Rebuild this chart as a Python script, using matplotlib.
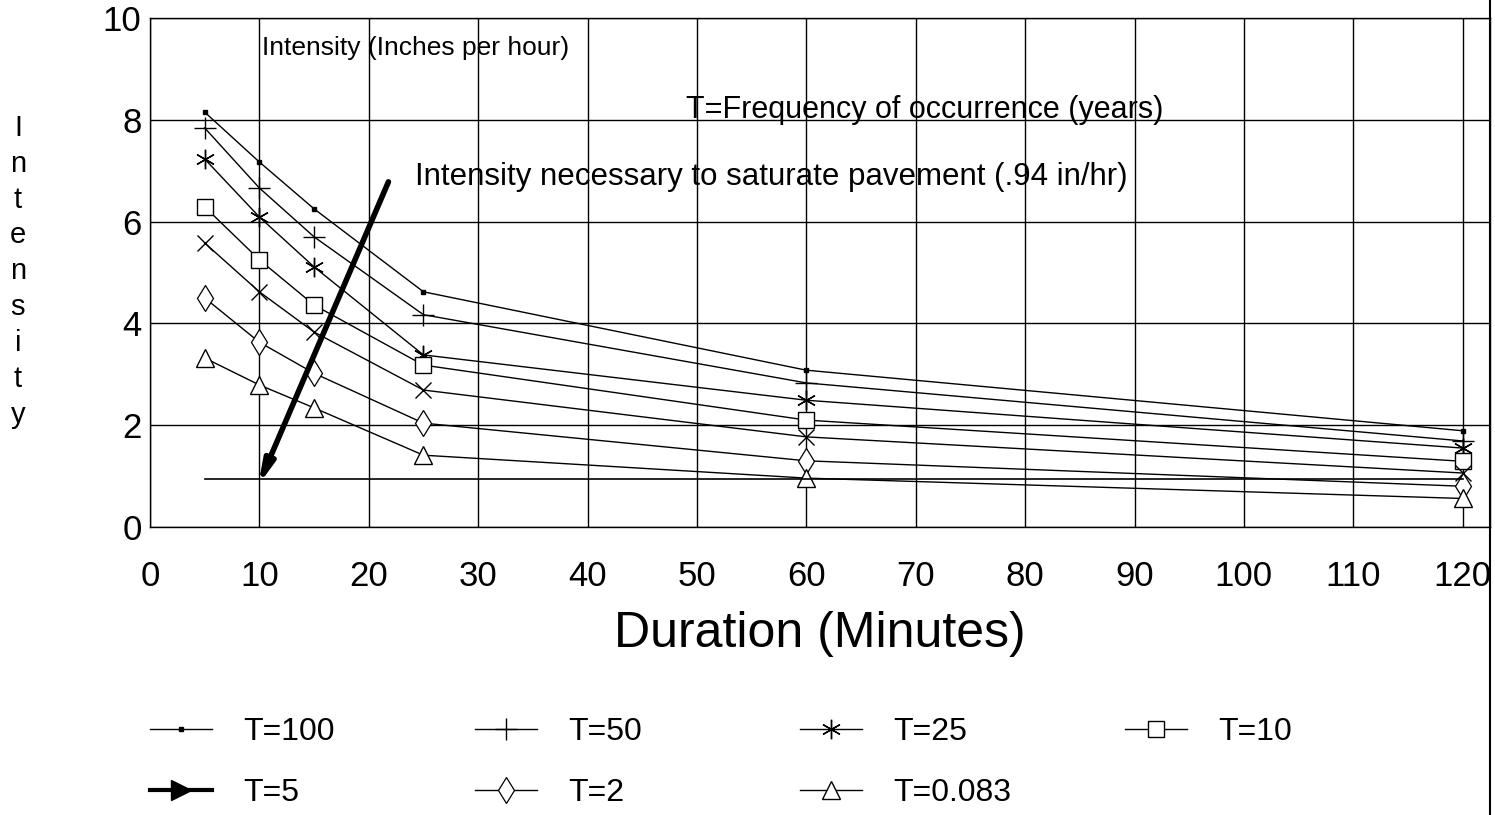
import matplotlib
matplotlib.use("Agg")
import matplotlib.pyplot as plt
from matplotlib.lines import Line2D

plt.rcParams['font.family'] = ['Liberation Sans', 'DejaVu Sans']

# durations (minutes) and intensities (in/hr) per return period
durations = [5, 10, 15, 25, 60, 120]
t100 = [8.15, 7.17, 6.25, 4.62, 3.08, 1.89]
t50 = [7.84, 6.66, 5.70, 4.17, 2.83, 1.69]
t25 = [7.23, 6.09, 5.11, 3.38, 2.49, 1.55]
t10 = [6.29, 5.25, 4.36, 3.18, 2.10, 1.29]
t5 = [5.58, 4.62, 3.83, 2.69, 1.77, 1.06]
t2 = [4.50, 3.63, 3.02, 2.04, 1.30, 0.80]
t0083 = [3.32, 2.79, 2.34, 1.41, 0.96, 0.56]
labels = ["T=100", "T=50", "T=25", "T=10", "T=5", "T=2", "T=0.083"]

saturation = 0.94
sat_range = [5, 120]
arrow_start = (21.8, 6.78)
arrow_end = (9.9, 0.82)

fig = plt.figure(figsize=(14.95, 8.15), dpi=100)
ax = fig.add_axes([0.1003, 0.3534, 0.8964, 0.6246])

styles = [
    dict(marker='s', ms=3.5, mfc='black'),
    dict(marker='+', ms=16, mew=1.0),
    dict(marker=(6, 2, 0), ms=14, mew=1.0),
    dict(marker='s', ms=11, mfc='white', mew=1.0),
    dict(marker='x', ms=11, mew=1.0),
    dict(marker='d', ms=13, mfc='white', mew=0.9),
    dict(marker='^', ms=13, mfc='white', mew=1.0),
]
series = [t100, t50, t25, t10, t5, t2, t0083]
handles = []
for vals, lab, st in zip(series, labels, styles):
    ln, = ax.plot(durations, vals, color='black', lw=1.0, label=lab, **st)
    handles.append(ln)

# legend handle for T=5 looks like an arrow in the original
handles[4] = Line2D([], [], color='black', lw=3, marker='>', ms=14)

ax.plot(sat_range, [saturation, saturation], color='black', lw=1.2)
ax.annotate('', xy=arrow_end, xytext=arrow_start,
            arrowprops=dict(arrowstyle='-|>,head_length=1.3,head_width=0.3',
                            color='black', lw=4, shrinkA=0, shrinkB=0))

ax.set_xlim(0, 122.5)
ax.set_ylim(0, 10)
ax.set_xticks(range(0, 121, 10))
ax.set_yticks(range(0, 11, 2))
ax.grid(True, color='black', lw=1.0)
ax.tick_params(length=0, labelsize=25)
ax.tick_params(axis='x', pad=24)
ax.tick_params(axis='y', pad=6)
for sp in ax.spines.values():
    sp.set_linewidth(1.0)
ax.set_xlabel("Duration (Minutes)", fontsize=36, labelpad=13)

ax.text(10.2, 9.41, "Intensity (Inches per hour)", fontsize=19, va='center', ha='left')
ax.text(49.0, 8.19, "T=Frequency of occurrence (years)", fontsize=22, va='center', ha='left')
ax.text(24.2, 6.88, "Intensity necessary to saturate pavement (.94 in/hr)",
        fontsize=22.5, va='center', ha='left')

fig.text(0.012, 0.667, "\n".join("Intensity"), fontsize=21, ha='center', va='center',
         linespacing=1.36)

# legend, one column at a time
col_x = [0.1003, 0.3177, 0.535, 0.7525]
for i, x in enumerate(col_x):
    fig.legend(handles[i::4], labels[i::4], loc='upper left',
               bbox_to_anchor=(x, 0.12), frameon=False, fontsize=23,
               handlelength=1.95, handletextpad=0.97, labelspacing=0.97,
               borderaxespad=0, borderpad=0)

fig.add_artist(Line2D([0.9967, 0.9967], [0, 1], color='black', lw=1.5))

fig.savefig("out.png", dpi=100)
